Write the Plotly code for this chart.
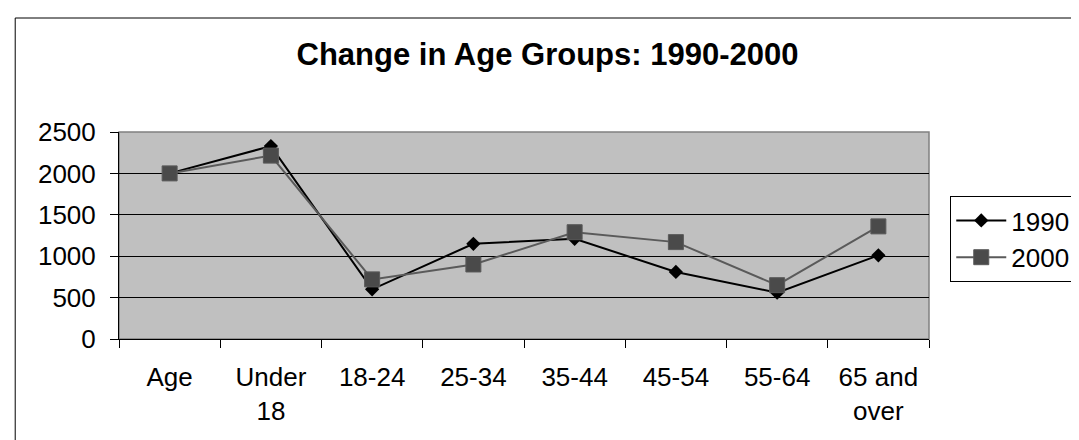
import plotly.graph_objects as go

categories = ["Age", "Under<br>18", "18-24", "25-34", "35-44", "45-54", "55-64", "65 and<br>over"]
values_1990 = [2000, 2330, 600, 1150, 1210, 810, 560, 1010]
values_2000 = [2000, 2215, 720, 900, 1290, 1170, 650, 1360]
y_ticks = [0, 500, 1000, 1500, 2000, 2500]

FONT = "Liberation Sans, Arial, sans-serif"

fig = go.Figure()
fig.add_trace(go.Scatter(
    x=categories, y=values_1990, name="1990", mode="lines+markers",
    line=dict(color="#000000", width=2),
    marker=dict(symbol="diamond", size=11, color="#000000"),
))
fig.add_trace(go.Scatter(
    x=categories, y=values_2000, name="2000", mode="lines+markers",
    line=dict(color="#5a5a5a", width=2),
    marker=dict(symbol="square", size=15, color="#4a4a4a",
                line=dict(color="#5a5a5a", width=1)),
))

fig.update_layout(
    width=1079, height=440,
    margin=dict(l=111, r=156, t=124, b=109),
    paper_bgcolor="white",
    plot_bgcolor="#C0C0C0",
    font=dict(family=FONT, size=26, color="#000000"),
    title=dict(text="<b>Change in Age Groups: 1990-2000</b>",
               font=dict(family=FONT, size=31, color="#000000"),
               x=0.5, xanchor="center", xref="container",
               y=1 - 46 / 440, yanchor="middle", yref="container"),
    showlegend=True,
    legend=dict(x=(944 - 111) / 811.7, xanchor="left",
                y=(331 - 188) / 207, yanchor="top",
                bgcolor="white", bordercolor="#000000", borderwidth=1,
                font=dict(family=FONT, size=26, color="#000000"),
                tracegroupgap=0, itemwidth=50),
    xaxis=dict(
        type="category", tickson="boundaries",
        ticks="outside", ticklen=8, tickcolor="#000000", tickwidth=1,
        showline=True, linecolor="#000000", linewidth=1,
        showgrid=False, zeroline=False,
        tickfont=dict(family=FONT, size=26, color="#000000"),
        ticklabelstandoff=15,
        range=[-0.5, 7.5],
    ),
    yaxis=dict(
        range=[0, 2500], tickvals=y_ticks,
        ticks="outside", ticklen=8, tickcolor="#000000", tickwidth=1,
        showline=True, linecolor="#000000", linewidth=1,
        showgrid=True, gridcolor="#000000", gridwidth=1,
        zeroline=False,
        tickfont=dict(family=FONT, size=26, color="#000000"),
        ticklabelstandoff=9,
    ),
    shapes=[
        dict(type="rect", xref="paper", yref="paper", x0=0, x1=1, y0=0, y1=1,
             line=dict(color="#808080", width=1.5), layer="below"),
        dict(type="rect", xref="paper", yref="paper",
             x0=(7 - 111) / 811.7, x1=1.4, y0=-0.8, y1=(331 - 10) / 207,
             line=dict(color="#000000", width=1)),
    ],
)

fig.write_html("out.html")
